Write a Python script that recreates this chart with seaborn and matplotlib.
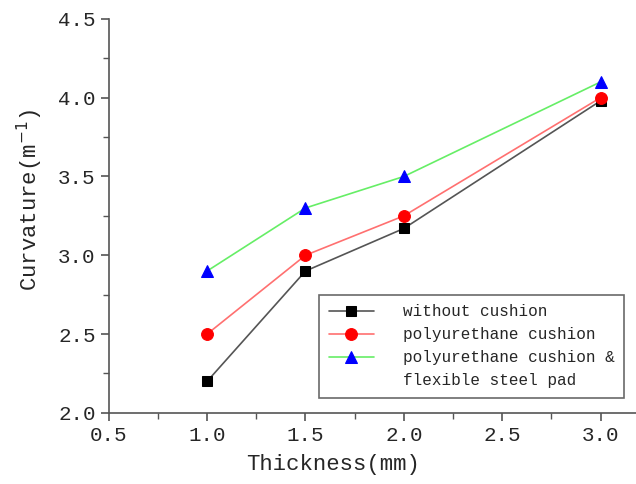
import numpy as np
import pandas as pd
import matplotlib
matplotlib.use('Agg')
import matplotlib.pyplot as plt
from matplotlib.lines import Line2D
from matplotlib.ticker import MultipleLocator, FormatStrFormatter
import seaborn as sns

thickness = [1.0, 1.5, 2.0, 3.0]
without_cushion = [2.20, 2.90, 3.17, 3.98]
pu_cushion = [2.50, 3.00, 3.25, 4.00]
pu_steel_pad = [2.90, 3.30, 3.50, 4.10]
labels = ['without cushion', 'polyurethane cushion', 'polyurethane cushion &']
label_extra = 'flexible steel pad'

sns.set_style('ticks')
plt.rcParams['font.family'] = ['Liberation Mono', 'DejaVu Sans']

fig = plt.figure(figsize=(6.36, 4.84), dpi=100)
ax = fig.add_axes([0.171, 0.147, 0.829, 0.814])

# line colour, marker, marker colour, marker size
styles = [('#555555', 's', 'black', 6.5),
          ('#ff7070', 'o', 'red', 8.5),
          ('#66ee66', '^', 'blue', 8.5)]
series = [without_cushion, pu_cushion, pu_steel_pad]
for vals, lab, (lc, mk, mc, ms) in zip(series, labels, styles):
    sns.lineplot(x=thickness, y=vals, ax=ax, color=lc, lw=1.2,
                 marker=mk, markersize=ms, markerfacecolor=mc,
                 markeredgecolor=mc, label=lab)

ax.set_xlim(0.5, 3.18)
ax.set_ylim(2.0, 4.5)
ax.xaxis.set_major_locator(MultipleLocator(0.5))
ax.xaxis.set_minor_locator(MultipleLocator(0.25))
ax.yaxis.set_major_locator(MultipleLocator(0.5))
ax.yaxis.set_minor_locator(MultipleLocator(0.25))
ax.xaxis.set_major_formatter(FormatStrFormatter('%.1f'))
ax.yaxis.set_major_formatter(FormatStrFormatter('%.1f'))
ax.tick_params(which='major', length=6, width=1.2, color='#555555',
               labelsize=15, direction='out')
ax.tick_params(which='minor', length=4, width=1.0, color='#555555', direction='out')
sns.despine(ax=ax)
for s in ['left', 'bottom']:
    ax.spines[s].set_color('#555555')
    ax.spines[s].set_linewidth(1.2)

ax.set_xlabel('Thickness(mm)', fontsize=16)
ax.xaxis.set_label_coords(0.426, -0.105)
ax.set_ylabel('Curvature(m$^{-1}$)', fontsize=16)
ax.yaxis.set_label_coords(-0.12, 0.54)

handles, _ = ax.get_legend_handles_labels()
handles.append(Line2D([], [], color='none'))
leg = ax.legend(handles, labels + [label_extra], loc='lower right',
                bbox_to_anchor=(0.977, 0.038), borderaxespad=0, fontsize=11.5,
                frameon=True, fancybox=False, handlelength=2.8,
                borderpad=0.6, labelspacing=0.5, handletextpad=1.8)
leg.get_frame().set_edgecolor('#444444')
leg.get_frame().set_linewidth(1.2)

fig.savefig('out.png', dpi=100)
